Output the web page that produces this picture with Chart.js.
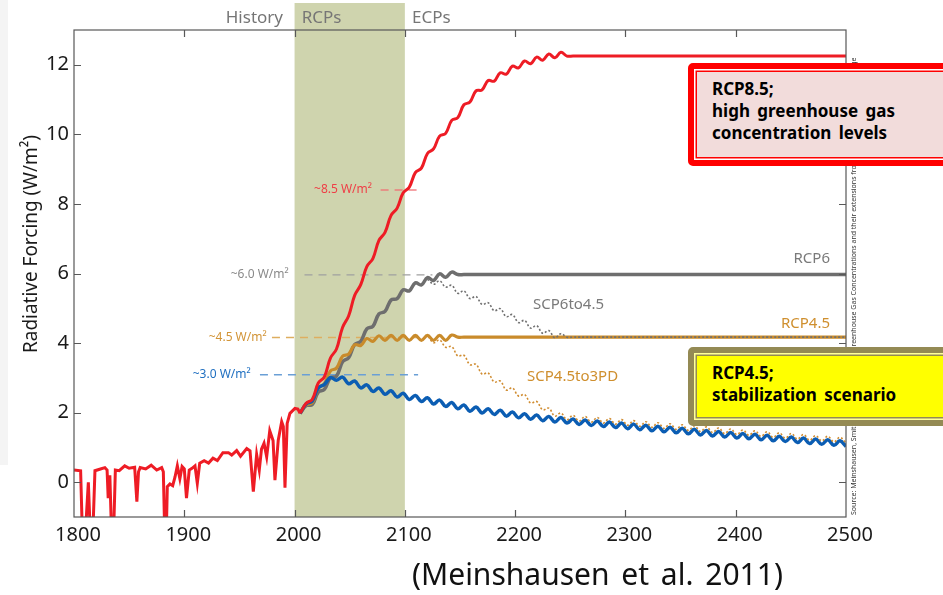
<!DOCTYPE html>
<html lang="en">
<head>
<meta charset="UTF-8">
<title>Radiative Forcing – RCPs and ECPs</title>
<script src="https://cdn.jsdelivr.net/npm/chart.js"></script>
<style>
  body { margin: 0; background: #ffffff; }
  #wrap {
    position: relative;
    width: 943px;
    height: 595px;
    overflow: hidden;
    font-family: 'Noto Sans', 'Open Sans', sans-serif;
  }
  #wrap canvas { position: absolute; left: 0; top: 0; }
  .edge { position: absolute; left: 0; top: 0; width: 8px; height: 465px; background: #f4f4f4; }
  .callout {
    position: absolute;
    left: 688px;
    width: 280px;
    box-sizing: border-box;
    border-radius: 5px;
    padding: 9px 0 0 18px;
    font-weight: bold;
    font-size: 17px;
    line-height: 22px;
    word-spacing: 3px;
    color: #000;
  }
  .callout.high {
    top: 63px;
    height: 103px;
    border: 6px solid #ff0000;
    background: #f2dcdb;
    box-shadow: inset 0 0 0 1.5px #ffffff, inset 0 0 0 3px #ff0000;
  }
  .callout.stable {
    top: 347px;
    height: 79px;
    border: 6px solid #948a54;
    background: #ffff00;
    box-shadow: inset 0 0 0 1.5px #ffff99, inset 0 0 0 3px #948a54;
  }
  .cite {
    position: absolute;
    left: 412px;
    top: 559px;
    font-size: 30px;
    line-height: 30px;
    word-spacing: 4px;
    color: #111;
    white-space: nowrap;
  }
</style>
</head>
<body>
<div id="wrap">
  <div class="edge"></div>
  <canvas id="forcing" width="943" height="595"></canvas>
  <div class="callout high">RCP8.5;<br>high greenhouse gas<br>concentration levels</div>
  <div class="callout stable">RCP4.5;<br>stabilization scenario</div>
  <div class="cite">(Meinshausen et al. 2011)</div>
</div>

<script>
// historical forcing (volcanic eruptions pull it below the axis)
const histYears = [1800, 1806, 1808.5, 1813, 1816, 1819, 1824, 1828, 1830, 1831,
  1832.5, 1835, 1837.5, 1841, 1846, 1850, 1855, 1857, 1858.5, 1860,
  1865, 1870, 1875, 1879.5, 1881, 1883, 1884.6, 1887, 1889.5, 1891.6,
  1893.7, 1896, 1898, 1900, 1902, 1904.5, 1907, 1909.7, 1911.8, 1914,
  1918, 1922, 1926, 1930, 1935, 1940, 1943, 1947.5, 1951, 1956.6,
  1959.6, 1962.6, 1965.6, 1968, 1970, 1972.3, 1974.7, 1977.5, 1980.5, 1982.2,
  1985.2, 1988.3, 1989.8, 1991.3, 1993.3, 1995.8, 2000.3, 2003, 2005];
const histForcing = [0.35, 0.33, -2.5, 0.0, -2.5, 0.33, 0.38, 0.42, 0.35, -0.46,
  0.2, -2.5, 0.35, 0.33, 0.47, 0.4, 0.43, -0.56, 0.3, 0.42,
  0.38, 0.49, 0.35, 0.42, 0.3, -2.5, -0.13, -0.05, -0.1, 0.15,
  0.47, 0.1, 0.45, 0.38, -0.46, 0.35, 0.4, 0.47, -0.03, 0.55,
  0.62, 0.55, 0.69, 0.62, 0.85, 0.85, 0.78, 0.91, 0.75, 0.97,
  0.9, -0.27, 0.8, 0.35, 0.95, 1.12, 0.73, 1.48, 1.2, 0.06,
  1.21, 1.74, 1.6, -0.16, 1.69, 1.98, 2.12, 2.1, 1.98];

// scenario years: one point every half solar cycle
const futureYears = [2005, 2010.5, 2016, 2021.5, 2027, 2032.5, 2038, 2043.5, 2049, 2054.5,
  2060, 2065.5, 2071, 2076.5, 2082, 2087.5, 2093, 2098.5, 2104, 2109.5,
  2115, 2120.5, 2126, 2131.5, 2137, 2142.5, 2148, 2153.5, 2159, 2164.5,
  2170, 2175.5, 2181, 2186.5, 2192, 2197.5, 2203, 2208.5, 2214, 2219.5,
  2225, 2230.5, 2236, 2241.5, 2247, 2252.5, 2258, 2263.5, 2269, 2274.5,
  2280, 2285.5, 2291, 2296.5, 2302, 2307.5, 2313, 2318.5, 2324, 2329.5,
  2335, 2340.5, 2346, 2351.5, 2357, 2362.5, 2368, 2373.5, 2379, 2384.5,
  2390, 2395.5, 2401, 2406.5, 2412, 2417.5, 2423, 2428.5, 2434, 2439.5,
  2445, 2450.5, 2456, 2461.5, 2467, 2472.5, 2478, 2483.5, 2489, 2494.5,
  2500];

const rcp85 = [1.98, 2.27, 2.38, 2.85, 3.03, 3.57, 3.83, 4.45, 4.78, 5.37,
  5.68, 6.2, 6.43, 6.95, 7.18, 7.67, 7.88, 8.32, 8.48, 8.9,
  9.03, 9.45, 9.58, 9.95, 10.03, 10.4, 10.48, 10.85, 10.93, 11.25,
  11.28, 11.55, 11.53, 11.77, 11.73, 11.96, 11.91, 12.11, 12.03, 12.22,
  12.13, 12.31, 12.2, 12.36, 12.25, 12.25, 12.25, 12.25, 12.25, 12.25,
  12.25, 12.25, 12.25, 12.25, 12.25, 12.25, 12.25, 12.25, 12.25, 12.25,
  12.25, 12.25, 12.25, 12.25, 12.25, 12.25, 12.25, 12.25, 12.25, 12.25,
  12.25, 12.25, 12.25, 12.25, 12.25, 12.25, 12.25, 12.25, 12.25, 12.25,
  12.25, 12.25, 12.25, 12.25, 12.25, 12.25, 12.25, 12.25, 12.25, 12.25,
  12.25];

const rcp6 = [1.98, 2.2, 2.23, 2.59, 2.67, 3.0, 3.05, 3.46, 3.58, 3.96,
  4.05, 4.41, 4.48, 4.84, 4.91, 5.24, 5.28, 5.53, 5.5, 5.73,
  5.67, 5.88, 5.8, 5.99, 5.89, 6.04, 5.97, 5.97, 5.97, 5.97,
  5.97, 5.97, 5.97, 5.97, 5.97, 5.97, 5.97, 5.97, 5.97, 5.97,
  5.97, 5.97, 5.97, 5.97, 5.97, 5.97, 5.97, 5.97, 5.97, 5.97,
  5.97, 5.97, 5.97, 5.97, 5.97, 5.97, 5.97, 5.97, 5.97, 5.97,
  5.97, 5.97, 5.97, 5.97, 5.97, 5.97, 5.97, 5.97, 5.97, 5.97,
  5.97, 5.97, 5.97, 5.97, 5.97, 5.97, 5.97, 5.97, 5.97, 5.97,
  5.97, 5.97, 5.97, 5.97, 5.97, 5.97, 5.97, 5.97, 5.97, 5.97,
  5.97];

const rcp45 = [1.98, 2.22, 2.28, 2.7, 2.83, 3.2, 3.28, 3.62, 3.68, 3.95,
  3.93, 4.13, 4.05, 4.21, 4.08, 4.22, 4.08, 4.22, 4.08, 4.22,
  4.08, 4.22, 4.08, 4.22, 4.08, 4.23, 4.17, 4.17, 4.17, 4.17,
  4.17, 4.17, 4.17, 4.17, 4.17, 4.17, 4.17, 4.17, 4.17, 4.17,
  4.17, 4.17, 4.17, 4.17, 4.17, 4.17, 4.17, 4.17, 4.17, 4.17,
  4.17, 4.17, 4.17, 4.17, 4.17, 4.17, 4.17, 4.17, 4.17, 4.17,
  4.17, 4.17, 4.17, 4.17, 4.17, 4.17, 4.17, 4.17, 4.17, 4.17,
  4.17, 4.17, 4.17, 4.17, 4.17, 4.17, 4.17, 4.17, 4.17, 4.17,
  4.17, 4.17, 4.17, 4.17, 4.17, 4.17, 4.17, 4.17, 4.17, 4.17,
  4.17];

const rcp3pd = [1.98, 2.25, 2.33, 2.71, 2.81, 3.01, 2.93, 3.02, 2.83, 2.91,
  2.71, 2.8, 2.61, 2.71, 2.53, 2.63, 2.45, 2.56, 2.38, 2.49,
  2.32, 2.43, 2.25, 2.36, 2.18, 2.29, 2.11, 2.22, 2.04, 2.16,
  1.99, 2.11, 1.95, 2.07, 1.9, 2.02, 1.85, 1.97, 1.81, 1.93,
  1.77, 1.89, 1.73, 1.86, 1.7, 1.82, 1.66, 1.79, 1.63, 1.76,
  1.6, 1.73, 1.57, 1.7, 1.54, 1.67, 1.51, 1.64, 1.48, 1.61,
  1.45, 1.58, 1.42, 1.55, 1.39, 1.52, 1.36, 1.49, 1.33, 1.46,
  1.3, 1.43, 1.27, 1.4, 1.25, 1.38, 1.22, 1.35, 1.19, 1.32,
  1.17, 1.3, 1.14, 1.27, 1.11, 1.24, 1.09, 1.22, 1.06, 1.19,
  1.03];

// extension scenarios branch off after 2115
const scp6to45 = [null, null, null, null, null, null, null, null, null, null,
  null, null, null, null, null, null, null, null, null, null,
  5.67, 5.82, 5.69, 5.79, 5.61, 5.66, 5.43, 5.5, 5.28, 5.34,
  5.11, 5.16, 4.93, 4.99, 4.76, 4.82, 4.59, 4.65, 4.43, 4.5,
  4.28, 4.36, 4.15, 4.27, 4.17, 4.17, 4.17, 4.17, 4.17, 4.17,
  4.17, 4.17, 4.17, 4.17, 4.17, 4.17, 4.17, 4.17, 4.17, 4.17,
  4.17, 4.17, 4.17, 4.17, 4.17, 4.17, 4.17, 4.17, 4.17, 4.17,
  4.17, 4.17, 4.17, 4.17, 4.17, 4.17, 4.17, 4.17, 4.17, 4.17,
  4.17, 4.17, 4.17, 4.17, 4.17, 4.17, 4.17, 4.17, 4.17, 4.17,
  4.17];

const scp45to3pd = [null, null, null, null, null, null, null, null, null, null,
  null, null, null, null, null, null, null, null, null, null,
  4.08, 4.19, 4.01, 4.09, 3.88, 3.9, 3.63, 3.65, 3.38, 3.39,
  3.11, 3.14, 2.88, 2.91, 2.65, 2.71, 2.48, 2.52, 2.28, 2.32,
  2.08, 2.13, 1.9, 1.99, 1.8, 1.92, 1.76, 1.89, 1.73, 1.86,
  1.7, 1.83, 1.67, 1.8, 1.64, 1.77, 1.61, 1.74, 1.58, 1.71,
  1.55, 1.68, 1.52, 1.65, 1.49, 1.62, 1.46, 1.59, 1.43, 1.56,
  1.4, 1.53, 1.37, 1.5, 1.35, 1.48, 1.32, 1.45, 1.29, 1.42,
  1.27, 1.4, 1.24, 1.37, 1.21, 1.34, 1.19, 1.32, 1.16, 1.29,
  1.13];

const xTicks = [1800, 1900, 2000, 2100, 2200, 2300, 2400, 2500];
const yTicks = [0, 2, 4, 6, 8, 10, 12];

// stabilisation levels marked with dashed guides
const refValues = [8.4, 5.96, 4.16, 3.09];
const refLabels = ['~8.5 W/m²', '~6.0 W/m²', '~4.5 W/m²', '~3.0 W/m²'];

const FONT = "'Noto Sans', 'Open Sans', sans-serif";
const RED = '#ee1c25', GREY = '#6e6e6e', ORANGE = '#c98b2b', BLUE = '#0b5db3';

const refStyle = [
  { from: 2078, to: 2112, end: 2070.2, dash: 'rgba(240,110,115,0.85)', text: '#ef3e46' },
  { from: 2009, to: 2125, end: 1994.7, dash: '#a0a0a0', text: '#8a8a8a' },
  { from: 1979.5, to: 2112, end: 1974.7, dash: '#deae60', text: '#d29437' },
  { from: 1968.6, to: 2112, end: 1960.2, dash: '#6a9fd6', text: '#1f6fc0' }
];

const seriesTags = [
  { text: 'RCP6', x: 2485.5, y: 6.3, align: 'right', color: '#7a7a7a' },
  { text: 'SCP6to4.5', x: 2216.2, y: 4.98, align: 'left', color: '#7a7a7a' },
  { text: 'RCP4.5', x: 2485.5, y: 4.43, align: 'right', color: '#cf8f2e' },
  { text: 'SCP4.5to3PD', x: 2210.8, y: 2.91, align: 'left', color: '#cf8f2e' }
];

const pairs = (xs, ys) => xs.map((x, i) => ({ x: x, y: ys[i] }));

const decor = {
  id: 'decor',
  beforeDatasetsDraw(chart) {
    const { ctx, chartArea: a, scales: { x, y } } = chart;
    ctx.save();

    // RCP period band, reaching up behind the period labels
    const b0 = x.getPixelForValue(2000), b1 = x.getPixelForValue(2100);
    ctx.fillStyle = '#cfd4ae';
    ctx.fillRect(b0, 3, b1 - b0, a.bottom - 3);

    ctx.font = '17px ' + FONT;
    ctx.fillStyle = '#767676';
    ctx.textBaseline = 'alphabetic';
    ctx.textAlign = 'right';
    ctx.fillText('History', x.getPixelForValue(1989.5), 23);
    ctx.textAlign = 'left';
    ctx.fillText('RCPs', x.getPixelForValue(2006.5), 23);
    ctx.fillText('ECPs', x.getPixelForValue(2106.5), 23);

    // dashed guides with their labels
    ctx.font = '12px ' + FONT;
    ctx.lineWidth = 1.3;
    ctx.setLineDash([8, 6]);
    refValues.forEach((v, i) => {
      const s = refStyle[i];
      const py = y.getPixelForValue(v);
      ctx.strokeStyle = s.dash;
      ctx.beginPath();
      ctx.moveTo(x.getPixelForValue(s.from), py);
      ctx.lineTo(x.getPixelForValue(s.to), py);
      ctx.stroke();
      ctx.fillStyle = s.text;
      ctx.textAlign = 'right';
      ctx.textBaseline = 'middle';
      ctx.fillText(refLabels[i], x.getPixelForValue(s.end), py);
    });
    ctx.restore();
  },
  afterDatasetsDraw(chart) {
    const { ctx, chartArea: a, scales: { x, y } } = chart;
    ctx.save();

    // frame with inward ticks
    ctx.strokeStyle = '#585858';
    ctx.lineWidth = 1.2;
    ctx.strokeRect(a.left, a.top, a.right - a.left, a.bottom - a.top);
    ctx.beginPath();
    xTicks.slice(1, -1).forEach(v => {
      const px = Math.round(x.getPixelForValue(v)) + 0.5;
      ctx.moveTo(px, a.top); ctx.lineTo(px, a.top + 7);
      ctx.moveTo(px, a.bottom); ctx.lineTo(px, a.bottom - 7);
    });
    yTicks.forEach(v => {
      const py = Math.round(y.getPixelForValue(v)) + 0.5;
      ctx.moveTo(a.left, py); ctx.lineTo(a.left + 7, py);
      ctx.moveTo(a.right, py); ctx.lineTo(a.right - 7, py);
    });
    ctx.stroke();

    // scenario names
    ctx.font = '15px ' + FONT;
    ctx.textBaseline = 'alphabetic';
    seriesTags.forEach(t => {
      ctx.fillStyle = t.color;
      ctx.textAlign = t.align;
      ctx.fillText(t.text, x.getPixelForValue(t.x), y.getPixelForValue(t.y));
    });

    // axis title
    ctx.save();
    ctx.translate(37, 244);
    ctx.rotate(-Math.PI / 2);
    ctx.font = '20px ' + FONT;
    ctx.fillStyle = '#1a1a1a';
    ctx.textAlign = 'center';
    ctx.fillText('Radiative Forcing (W/m²)', 0, 0, 218);
    ctx.restore();

    // source note along the right edge
    ctx.save();
    ctx.translate(856, 515);
    ctx.rotate(-Math.PI / 2);
    ctx.font = '7px ' + FONT;
    ctx.fillStyle = '#333';
    ctx.textAlign = 'left';
    ctx.fillText('Source: Meinshausen, Smith et al. (2011) The RCP Greenhouse Gas Concentrations and their extensions from 1765 to 2300, Climatic Change', 0, 0, 465);
    ctx.restore();

    ctx.restore();
  }
};

new Chart(document.getElementById('forcing'), {
  type: 'line',
  data: {
    datasets: [
      { label: 'Historical', data: pairs(histYears, histForcing), borderColor: RED, borderWidth: 3, tension: 0 },
      { label: 'RCP8.5', data: pairs(futureYears, rcp85), borderColor: RED, borderWidth: 3, tension: 0.4 },
      { label: 'SCP6to4.5', data: pairs(futureYears, scp6to45), borderColor: '#707070', borderWidth: 1.6, borderDash: [2, 2], tension: 0.4 },
      { label: 'SCP4.5to3PD', data: pairs(futureYears, scp45to3pd), borderColor: '#d08c30', borderWidth: 1.6, borderDash: [2, 2], tension: 0.4 },
      { label: 'RCP3PD', data: pairs(futureYears, rcp3pd), borderColor: BLUE, borderWidth: 3.5, tension: 0.4 },
      { label: 'RCP4.5', data: pairs(futureYears, rcp45), borderColor: ORANGE, borderWidth: 3.2, tension: 0.4 },
      { label: 'RCP6', data: pairs(futureYears, rcp6), borderColor: GREY, borderWidth: 3.5, tension: 0.4 }
    ]
  },
  options: {
    responsive: false,
    animation: false,
    layout: { padding: { left: 0, right: 97, top: 30, bottom: 48 } },
    elements: { point: { radius: 0 } },
    plugins: { legend: { display: false }, tooltip: { enabled: false } },
    scales: {
      x: {
        type: 'linear',
        min: 1800,
        max: 2500,
        afterBuildTicks: s => { s.ticks = xTicks.map(v => ({ value: v })); },
        afterFit: s => { s.height = 30; },
        grid: { display: false, drawTicks: false },
        border: { display: false },
        ticks: {
          font: { family: FONT, size: 20 },
          color: '#1a1a1a',
          padding: 6,
          labelOffset: 4,
          maxRotation: 0,
          autoSkip: false,
          callback: v => String(v)
        }
      },
      y: {
        min: -1,
        max: 13,
        afterBuildTicks: s => { s.ticks = yTicks.map(v => ({ value: v })); },
        afterFit: s => { s.width = 74; },
        grid: { display: false, drawTicks: false },
        border: { display: false },
        ticks: {
          font: { family: FONT, size: 20 },
          color: '#1a1a1a',
          padding: 5,
          callback: v => String(v)
        }
      }
    }
  },
  plugins: [decor]
});
</script>
</body>
</html>
